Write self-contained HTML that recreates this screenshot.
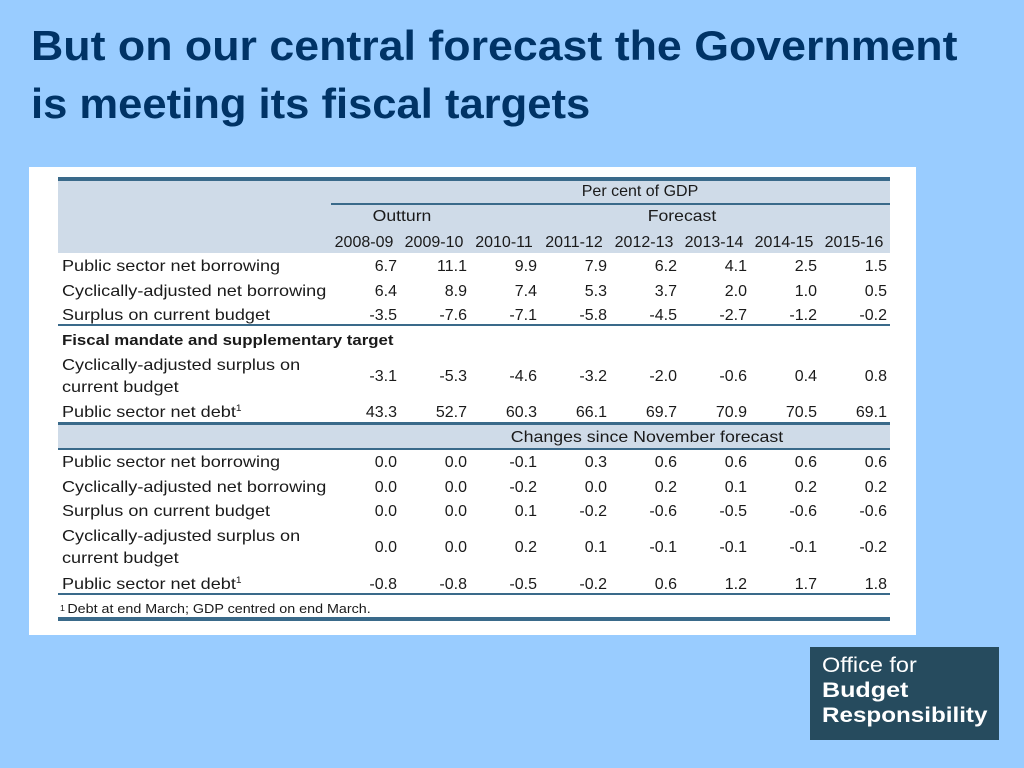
<!DOCTYPE html>
<html><head><meta charset="utf-8">
<style>
html,body{margin:0;padding:0}
body{width:1024px;height:768px;background:#99ccff;position:relative;overflow:hidden;font-family:"Liberation Sans",sans-serif}
.t{position:absolute;white-space:nowrap;color:#003366;font-weight:bold;font-size:42px;left:31px;transform-origin:0 0}
#panel{position:absolute;left:29px;top:167px;width:887px;height:468px;background:#fff}
.a{position:absolute;white-space:nowrap;font-size:16px;color:#1a1a1a;line-height:18px;transform-origin:0 50%}
.a sup{line-height:0;font-size:9px;vertical-align:6px}
.r{position:absolute;background:#3a6a8a}
.sh{position:absolute;background:#cfdbe8}
#logo{position:absolute;left:810px;top:647px;width:189px;height:93px;background:#264b5e;color:#fff}
</style></head><body>
<div class="t" id="t1" style="top:22px">But on our central forecast the Government</div>
<div class="t" id="t2" style="top:80px">is meeting its fiscal targets</div>
<div id="panel"></div>
<div id="logo">
<div id="lo" style="position:absolute;left:12px;top:7px;font-size:21px;line-height:24px;transform-origin:0 0;white-space:nowrap">Office for</div>
<div id="lb" style="position:absolute;left:12px;top:32px;font-size:21px;font-weight:bold;line-height:24px;transform-origin:0 0;white-space:nowrap">Budget</div>
<div id="lr" style="position:absolute;left:12px;top:57px;font-size:21px;font-weight:bold;line-height:24px;transform-origin:0 0;white-space:nowrap">Responsibility</div>
</div>
<script>
const years=["2008-09","2009-10","2010-11","2011-12","2012-13","2013-14","2014-15","2015-16"];
const labels1=["Public sector net borrowing","Cyclically-adjusted net borrowing","Surplus on current budget"];
const vals1=[["6.7","11.1","9.9","7.9","6.2","4.1","2.5","1.5"],["6.4","8.9","7.4","5.3","3.7","2.0","1.0","0.5"],["-3.5","-7.6","-7.1","-5.8","-4.5","-2.7","-1.2","-0.2"]];
const casVals=["-3.1","-5.3","-4.6","-3.2","-2.0","-0.6","0.4","0.8"];
const debtVals=["43.3","52.7","60.3","66.1","69.7","70.9","70.5","69.1"];
const labels2=["Public sector net borrowing","Cyclically-adjusted net borrowing","Surplus on current budget"];
const vals2=[["0.0","0.0","-0.1","0.3","0.6","0.6","0.6","0.6"],["0.0","0.0","-0.2","0.0","0.2","0.1","0.2","0.2"],["0.0","0.0","0.1","-0.2","-0.6","-0.5","-0.6","-0.6"]];
const casChg=["0.0","0.0","0.2","0.1","-0.1","-0.1","-0.1","-0.2"];
const debtChg=["-0.8","-0.8","-0.5","-0.2","0.6","1.2","1.7","1.8"];

function fit(e,w){e.style.transform='scaleX('+(w/e.offsetWidth)+')';}
fit(document.getElementById('t1'),926);fit(document.getElementById('t2'),559);
fit(document.getElementById('lr'),166);fit(document.getElementById('lb'),86);fit(document.getElementById('lo'),95);

const B=document.body;
const DY=2;
function colR(i){return 397+i*70;}
function box(cls,x,y,w,h,name){const d=document.createElement('div');d.className=cls;d.style.left=x+'px';d.style.top=y+'px';d.style.width=w+'px';d.style.height=h+'px';


B.appendChild(d);return d;}
function txt(s,x,y,name,align,extra){const d=document.createElement('div');d.className='a';d.textContent=s;d.style.top=(y-9+DY)+'px';
if(align==='r'){d.style.right=(1024-x)+'px';}else if(align==='c'){d.style.left=(x-150)+'px';d.style.width='300px';d.style.textAlign='center';d.style.transformOrigin='50% 50%';}else{d.style.left=x+'px';}
if(extra)Object.assign(d.style,extra);


B.appendChild(d);return d;}
const LS='scaleX(1.13)';
function row(label,vals,y,name,sup){const l=txt(label,62,y,name+'-label',null,{transform:LS});if(sup){const s=document.createElement('sup');s.textContent='1';l.appendChild(s);}
vals.forEach((v,i)=>txt(v,colR(i),y,name+'-'+years[i],'r'));}

box('sh',58,181,832,72,'header-shading');
box('r',58,177,832,4,'top-rule');
box('r',331,203,559,2,'header-divider');
txt('Per cent of GDP',640,190,'unit-label','c');
txt('Outturn',402,215,'outturn-label','c',{transform:'scaleX(1.1)'});
txt('Forecast',682,215,'forecast-label','c',{transform:'scaleX(1.1)'});
years.forEach((y,i)=>txt(y,colR(i)-33,241,'year-'+y,'c'));
labels1.forEach((l,k)=>row(l,vals1[k],265+k*24.5,'main-row-'+(k+1)));
box('r',58,324,832,2,'rule-fiscal');
txt('Fiscal mandate and supplementary target',62,339,'fiscal-section-title',null,{fontWeight:'bold',fontSize:'15px',transform:'scaleX(1.12)'});
txt('Cyclically-adjusted surplus on',62,364,'cas-label-1',null,{transform:LS});
txt('current budget',62,386,'cas-label-2',null,{transform:LS});
casVals.forEach((v,i)=>txt(v,colR(i),375,'cas-'+years[i],'r'));
row('Public sector net debt',debtVals,411,'debt-row',true);
box('r',58,422,832,3,'rule-changes-top');
box('sh',58,425,832,23,'changes-shading');
txt('Changes since November forecast',647,436,'changes-title','c',{transform:'scaleX(1.11)'});
box('r',58,448,832,2,'rule-changes-bottom');
labels2.forEach((l,k)=>row(l,vals2[k],461+k*24.5,'chg-row-'+(k+1)));
txt('Cyclically-adjusted surplus on',62,535,'chg-cas-label-1',null,{transform:LS});
txt('current budget',62,557,'chg-cas-label-2',null,{transform:LS});
casChg.forEach((v,i)=>txt(v,colR(i),546,'chg-cas-'+years[i],'r'));
row('Public sector net debt',debtChg,583,'chg-debt-row',true);
box('r',58,593,832,2,'rule-footnote');
const fn=txt('Debt at end March; GDP centred on end March.',60,607,'footnote',null,{fontSize:'13px',transform:'scaleX(1.1)'});
const fs=document.createElement('span');fs.textContent='1 ';fs.style.fontSize='8px';fs.style.verticalAlign='top';fn.prepend(fs);
box('r',58,617,832,4,'bottom-rule');
</script>
</body></html>
